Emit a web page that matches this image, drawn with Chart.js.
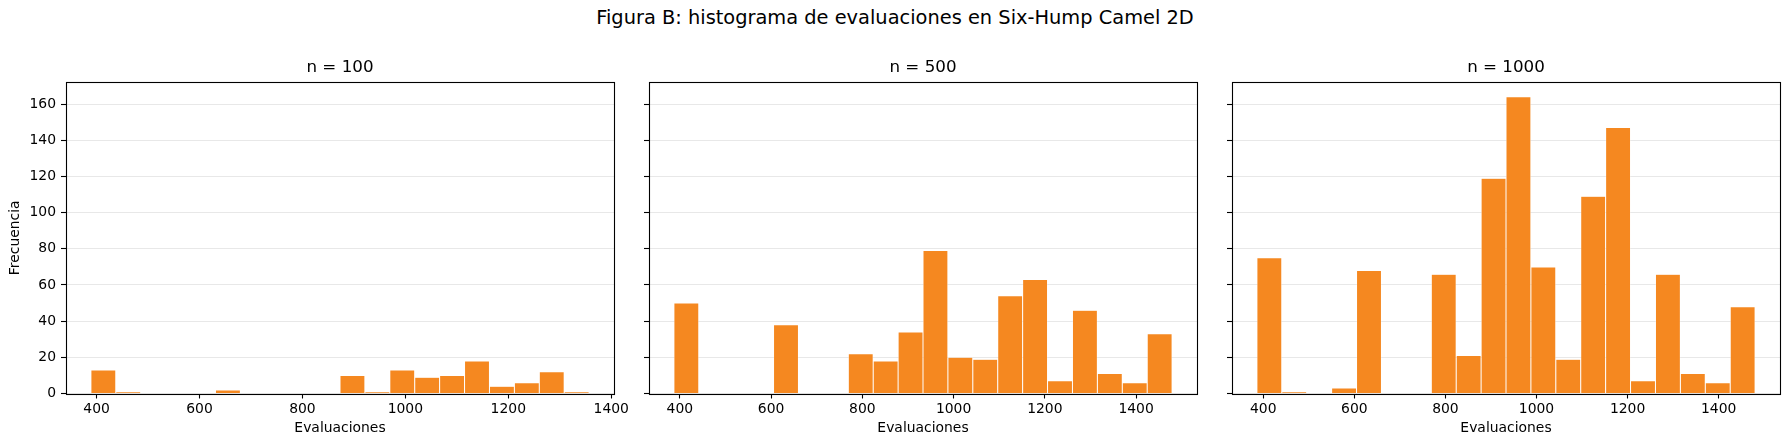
<!DOCTYPE html>
<html lang="es">
<head>
<meta charset="utf-8">
<script src="https://cdn.jsdelivr.net/npm/chart.js@4.4.1/dist/chart.umd.min.js"></script>
<style>
  html, body { margin: 0; padding: 0; background: #fff; overflow: hidden; }
  body { width: 1790px; height: 446px; position: relative; font-family: "DejaVu Sans", sans-serif; }
  #titulo { position: absolute; left: 0; width: 1790px; top: 8px; line-height: 20px; text-align: center; font-size: 19.4px; color: #000; }
  canvas { position: absolute; top: 58px; }
</style>
</head>
<body>
<div id="titulo">Figura B: histograma de evaluaciones en Six-Hump Camel 2D</div>
<canvas id="g100" width="632" height="388" style="left:0px"></canvas>
<canvas id="g500" width="576" height="388" style="left:639px"></canvas>
<canvas id="g1000" width="568" height="388" style="left:1222px"></canvas>
<script>
// rango [min, max] de evaluaciones de cada muestra (20 bins iguales)
const rango100 = [389, 1357];
const rango500 = [387, 1479];
const rango1000 = [386, 1480];

// frecuencias por bin
const frec100 = [13, 1, 0, 0, 0, 2, 0, 0, 0, 0, 10, 1, 13, 9, 10, 18, 4, 6, 12, 1];
const frec500 = [50, 0, 0, 0, 38, 0, 0, 22, 18, 34, 79, 20, 19, 54, 63, 7, 46, 11, 6, 33];
const frec1000 = [75, 1, 0, 3, 68, 0, 0, 66, 21, 119, 164, 70, 19, 109, 147, 7, 66, 11, 6, 48];

const xTicks = [400, 600, 800, 1000, 1200, 1400];
const yTicks = [0, 20, 40, 60, 80, 100, 120, 140, 160];

const naranja = '#f58820';
const fuente = 'DejaVu Sans';

// eje y compartido, margen de 5% como matplotlib
const yMax = Math.max(...frec100, ...frec500, ...frec1000) * 1.05;

// marco completo alrededor del area del grafico
const marco = {
  id: 'marco',
  afterDatasetsDraw(chart) {
    const a = chart.chartArea;
    const ctx = chart.ctx;
    ctx.save();
    ctx.strokeStyle = '#000';
    ctx.lineWidth = 1.1;
    ctx.strokeRect(Math.round(a.left) + 0.5, Math.round(a.top) + 0.5,
      Math.round(a.right) - Math.round(a.left), Math.round(a.bottom) - Math.round(a.top));
    ctx.restore();
  }
};

function histograma(id, titulo, rango, frec, conEtiquetasY, anchoY, padDer) {
  const ancho = (rango[1] - rango[0]) / frec.length;
  const puntos = frec.map((f, i) => ({ x: rango[0] + (i + 0.5) * ancho, y: f }));
  const margen = (rango[1] - rango[0]) * 0.05;

  return new Chart(document.getElementById(id), {
    type: 'bar',
    data: {
      datasets: [{
        data: puntos,
        backgroundColor: naranja,
        borderColor: '#ffffff',
        borderWidth: { top: 0.5, left: 0.5, right: 0.5, bottom: 0 },
        borderSkipped: false,
        inflateAmount: 0,
        barPercentage: 1,
        categoryPercentage: 1
      }]
    },
    options: {
      responsive: false,
      devicePixelRatio: 1,
      animation: false,
      layout: { padding: { top: 0, left: 0, right: padDer, bottom: 0 } },
      plugins: {
        legend: { display: false },
        tooltip: { enabled: false },
        title: {
          display: true,
          fullSize: false,
          text: titulo,
          color: '#000',
          font: { family: fuente, size: 16.7, weight: 'normal' },
          padding: { top: 0, bottom: 4 }
        }
      },
      scales: {
        x: {
          type: 'linear',
          min: rango[0] - margen,
          max: rango[1] + margen,
          offset: false,
          border: { display: false },
          grid: { drawOnChartArea: false, offset: false, tickColor: '#000', tickLength: 5, tickWidth: 1.1 },
          ticks: {
            color: '#000',
            font: { family: fuente, size: 13.9 },
            padding: 3,
            maxRotation: 0,
            callback: v => String(v)
          },
          afterBuildTicks: s => { s.ticks = xTicks.map(v => ({ value: v })); },
          afterFit: s => { s.height = 52.5; },
          title: {
            display: true,
            text: 'Evaluaciones',
            color: '#000',
            font: { family: fuente, size: 13.9 },
            padding: { top: 0, bottom: 9.7 }
          }
        },
        y: {
          min: 0,
          max: yMax,
          border: { display: false },
          grid: { color: '#e8e8e8', tickColor: '#000', tickLength: 5, tickWidth: 1.1 },
          ticks: {
            display: conEtiquetasY,
            color: '#000',
            font: { family: fuente, size: 13.9 },
            padding: 5,
            callback: v => String(v)
          },
          afterBuildTicks: s => { s.ticks = yTicks.map(v => ({ value: v })); },
          afterFit: s => { s.width = anchoY; },
          title: {
            display: conEtiquetasY,
            text: 'Frecuencia',
            color: '#000',
            font: { family: fuente, size: 13.9 },
            padding: { top: 7.4, bottom: 0 }
          }
        }
      }
    },
    plugins: [marco]
  });
}

histograma('g100', 'n = 100', rango100, frec100, true, 66, 18);
histograma('g500', 'n = 500', rango500, frec500, false, 10, 18);
histograma('g1000', 'n = 1000', rango1000, frec1000, false, 10, 10);
</script>
</body>
</html>
